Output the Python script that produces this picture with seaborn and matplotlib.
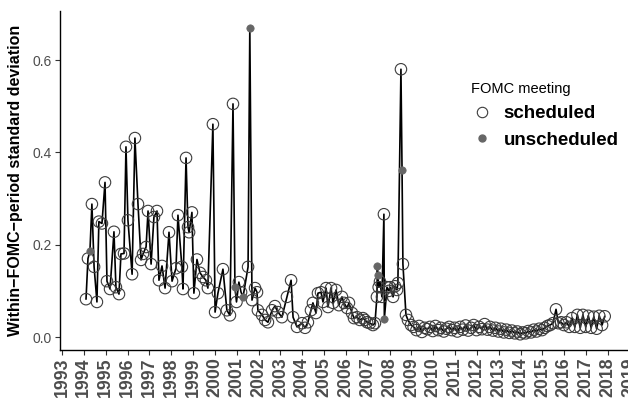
import matplotlib
matplotlib.use("Agg")
import matplotlib.pyplot as plt
from matplotlib.lines import Line2D
import seaborn as sns
import pandas as pd

# FOMC meeting dates (decimal years), within-period sd, meeting type
years = [
    1994.10, 1994.19, 1994.28, 1994.37, 1994.47, 1994.60, 1994.69, 1994.83, 1994.97,
    1995.06, 1995.20, 1995.38, 1995.47, 1995.61, 1995.70, 1995.84, 1995.93,
    1996.02, 1996.21, 1996.34, 1996.48, 1996.62, 1996.71, 1996.85, 1996.94,
    1997.08, 1997.21, 1997.35, 1997.44, 1997.58, 1997.72, 1997.90,
    1998.04, 1998.22, 1998.31, 1998.49, 1998.54, 1998.68, 1998.77, 1998.82, 1998.95,
    1999.04, 1999.18, 1999.32, 1999.46, 1999.59, 1999.68, 1999.91,
    2000.01, 2000.14, 2000.37, 2000.55, 2000.69, 2000.83, 2000.92, 2000.99,
    2001.10, 2001.20, 2001.29, 2001.52, 2001.60, 2001.70, 2001.84, 2001.93, 2001.97,
    2002.16, 2002.30, 2002.43, 2002.62, 2002.75, 2002.89,
    2003.07, 2003.30, 2003.49, 2003.58, 2003.76, 2003.99,
    2004.13, 2004.26, 2004.40, 2004.49, 2004.63, 2004.72, 2004.86, 2004.95,
    2005.09, 2005.18, 2005.32, 2005.41, 2005.55, 2005.68, 2005.82, 2005.91,
    2006.05, 2006.14, 2006.28, 2006.37, 2006.51, 2006.64, 2006.78, 2006.87, 2006.97,
    2007.10, 2007.24, 2007.33, 2007.42, 2007.44, 2007.46, 2007.50, 2007.56, 2007.65,
    2007.74, 2007.76, 2007.88, 2007.97,
    2008.02, 2008.16, 2008.25, 2008.34, 2008.38, 2008.52, 2008.57, 2008.61, 2008.75,
    2008.84, 2008.98,
    2009.10, 2009.23, 2009.35, 2009.48, 2009.60, 2009.73, 2009.85, 2009.98,
    2010.10, 2010.23, 2010.35, 2010.48, 2010.60, 2010.73, 2010.85, 2010.98,
    2011.10, 2011.23, 2011.35, 2011.48, 2011.60, 2011.73, 2011.85, 2011.98,
    2012.10, 2012.23, 2012.35, 2012.48, 2012.60, 2012.73, 2012.85, 2012.98,
    2013.10, 2013.23, 2013.35, 2013.48, 2013.60, 2013.73, 2013.85, 2013.98,
    2014.10, 2014.23, 2014.35, 2014.48, 2014.60, 2014.73, 2014.85, 2014.98,
    2015.10, 2015.23, 2015.35, 2015.48, 2015.62, 2015.73, 2015.85, 2015.98,
    2016.10, 2016.23, 2016.35, 2016.48, 2016.60, 2016.73, 2016.85, 2016.98,
    2017.10, 2017.23, 2017.35, 2017.48, 2017.60, 2017.73, 2017.85,
]
sd = [
    0.082, 0.170, 0.186, 0.288, 0.152, 0.076, 0.250, 0.246, 0.335,
    0.121, 0.104, 0.228, 0.108, 0.093, 0.180, 0.181, 0.412,
    0.253, 0.136, 0.431, 0.288, 0.167, 0.180, 0.195, 0.273,
    0.158, 0.260, 0.273, 0.123, 0.154, 0.106, 0.227,
    0.121, 0.149, 0.264, 0.152, 0.104, 0.388, 0.238, 0.227, 0.270,
    0.095, 0.168, 0.139, 0.130, 0.123, 0.106, 0.461,
    0.054, 0.095, 0.147, 0.058, 0.047, 0.505, 0.108, 0.076,
    0.119, 0.097, 0.087, 0.152, 0.670, 0.080, 0.106, 0.097, 0.058,
    0.048, 0.037, 0.032, 0.058, 0.067, 0.054,
    0.043, 0.087, 0.123, 0.043, 0.022, 0.030,
    0.020, 0.032, 0.058, 0.074, 0.052, 0.095, 0.097, 0.076,
    0.106, 0.065, 0.106, 0.074, 0.102, 0.069, 0.087, 0.074,
    0.063, 0.074, 0.052, 0.041, 0.043, 0.037, 0.041, 0.037, 0.032,
    0.030, 0.026, 0.030, 0.087, 0.154, 0.134, 0.108, 0.120, 0.087,
    0.266, 0.039, 0.108, 0.100,
    0.108, 0.087, 0.110, 0.102, 0.117, 0.580, 0.362, 0.158, 0.048,
    0.037, 0.026,
    0.022, 0.015, 0.024, 0.011, 0.020, 0.017, 0.022, 0.013,
    0.024, 0.015, 0.020, 0.012, 0.018, 0.022, 0.015, 0.020,
    0.012, 0.022, 0.016, 0.025, 0.014, 0.020, 0.026, 0.015,
    0.022, 0.017, 0.028, 0.016, 0.022, 0.014, 0.020, 0.012,
    0.018, 0.010, 0.016, 0.009, 0.014, 0.008, 0.012, 0.006,
    0.010, 0.008, 0.013, 0.010, 0.016, 0.012, 0.018, 0.015,
    0.020, 0.024, 0.026, 0.030, 0.060, 0.030, 0.032, 0.026,
    0.032, 0.022, 0.041, 0.022, 0.048, 0.020, 0.048, 0.022,
    0.046, 0.020, 0.044, 0.018, 0.046, 0.026, 0.045,
]
unscheduled_years = [1994.28, 2000.92, 2001.29, 2001.60, 2007.44, 2007.46, 2007.76, 2008.57]
meeting = ["unscheduled" if y in unscheduled_years else "scheduled" for y in years]

df = pd.DataFrame({"year": years, "sd": sd, "meeting": meeting})

sns.set_style("ticks")
plt.rcParams["font.family"] = ["Liberation Sans", "DejaVu Sans"]

fig = plt.figure(figsize=(6.28, 3.99), dpi=100)
# panel is a bit wider than the figure, right edge gets cropped like the original
ax = fig.add_axes([59.8 / 628, 49.5 / 399, 574.4 / 628, 338.4 / 399])

sns.lineplot(data=df, x="year", y="sd", color="black", linewidth=1.2,
             estimator=None, sort=True, ax=ax)
sch = df[df["meeting"] == "scheduled"]
uns = df[df["meeting"] == "unscheduled"]
sns.scatterplot(data=sch, x="year", y="sd", s=68, facecolors="none",
                edgecolor="#3c3c3c", linewidth=0.8, ax=ax, zorder=3)
sns.scatterplot(data=uns, x="year", y="sd", s=28, color="#666666",
                edgecolor="#666666", linewidth=0.5, ax=ax, zorder=4)

ax.set_xlim(1992.9, 2019.2)
ax.set_ylim(-0.027, 0.706)
ax.set_xticks(range(1993, 2020))
ax.set_xticklabels([str(y) for y in range(1993, 2020)], rotation=90,
                   fontsize=12.8, fontweight="bold", color="#4d4d4d")
ax.set_yticks([0.0, 0.2, 0.4, 0.6])
ax.set_yticklabels(["0.0", "0.2", "0.4", "0.6"], fontsize=10, color="#4d4d4d")
ax.tick_params(axis="both", length=3.5, width=0.8, color="#333333", pad=2)
ax.set_xlabel("")
ax.set_ylabel("Within\u2212FOMC\u2212period standard deviation", fontsize=11.5,
              fontweight="bold", color="black", labelpad=7)
sns.despine(ax=ax)
for s in ["left", "bottom"]:
    ax.spines[s].set_linewidth(1.0)
    ax.spines[s].set_color("black")

handles = [
    Line2D([], [], marker="o", ls="", mfc="none", mec="#3c3c3c", mew=0.8, ms=7.5),
    Line2D([], [], marker="o", ls="", mfc="#666666", mec="#666666", ms=5),
]
leg = ax.legend(handles, ["scheduled", "unscheduled"], title="FOMC meeting",
                loc="upper left", bbox_to_anchor=(454 / 628, 1 - 65 / 399),
                bbox_transform=fig.transFigure, frameon=False,
                prop={"size": 13.5, "weight": "bold"}, title_fontsize=10.5,
                handletextpad=0.55, labelspacing=0.5, handlelength=1.2)
leg._legend_box.align = "left"
leg.get_title().set_color("black")
for t in leg.get_texts():
    t.set_color("black")

fig.savefig("out.png", dpi=100)
